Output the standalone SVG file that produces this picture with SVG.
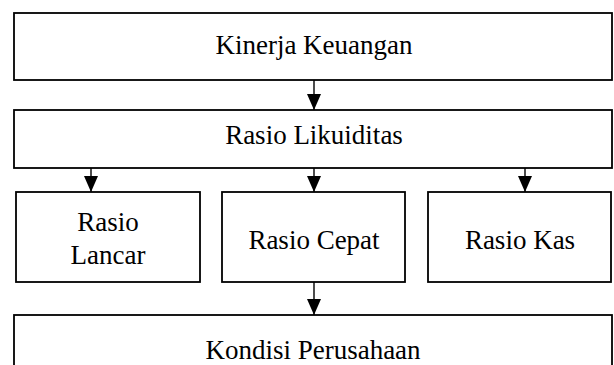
<svg xmlns="http://www.w3.org/2000/svg" width="614" height="365" viewBox="0 0 614 365">
<style>
.box{fill:#fff;stroke:#000;stroke-width:1.8}
.lbl{font-family:"Liberation Serif","DejaVu Serif",serif;font-size:27px;fill:#000;text-anchor:middle}
.con{stroke:#000;stroke-width:1.4;fill:none;marker-end:url(#ah)}
</style>
<defs>
<marker id="ah" markerUnits="userSpaceOnUse" markerWidth="16" markerHeight="14" refX="16" refY="7" orient="auto" viewBox="0 0 16 14">
<path d="M0,0 L16,7 L0,14 Z" fill="#000"/>
</marker>
</defs>
<rect width="614" height="365" fill="#fff"/>
<g id="connectors">
<line class="con" x1="314" y1="80" x2="314" y2="110"/>
<line class="con" x1="91" y1="168" x2="91" y2="192"/>
<line class="con" x1="314" y1="168" x2="314" y2="192"/>
<line class="con" x1="525" y1="165" x2="525" y2="192"/>
<line class="con" x1="314" y1="282" x2="314" y2="315"/>
</g>
<g id="kinerja">
<rect class="box" x="14" y="13" width="598" height="67"/>
<text class="lbl" x="314" y="54">Kinerja Keuangan</text>
</g>
<g id="likuiditas">
<rect class="box" x="14" y="110" width="598" height="58"/>
<text class="lbl" x="314" y="144">Rasio Likuiditas</text>
</g>
<g id="lancar">
<rect class="box" x="16" y="192" width="184" height="90"/>
<text class="lbl" x="108" y="231">Rasio</text>
<text class="lbl" x="108" y="264">Lancar</text>
</g>
<g id="cepat">
<rect class="box" x="222" y="192" width="183" height="90"/>
<text class="lbl" x="314" y="249">Rasio Cepat</text>
</g>
<g id="kas">
<rect class="box" x="428" y="192" width="183" height="90"/>
<text class="lbl" x="520" y="249">Rasio Kas</text>
</g>
<g id="kondisi">
<rect class="box" x="14" y="315" width="598" height="60"/>
<text class="lbl" x="313" y="359">Kondisi Perusahaan</text>
</g>
</svg>
